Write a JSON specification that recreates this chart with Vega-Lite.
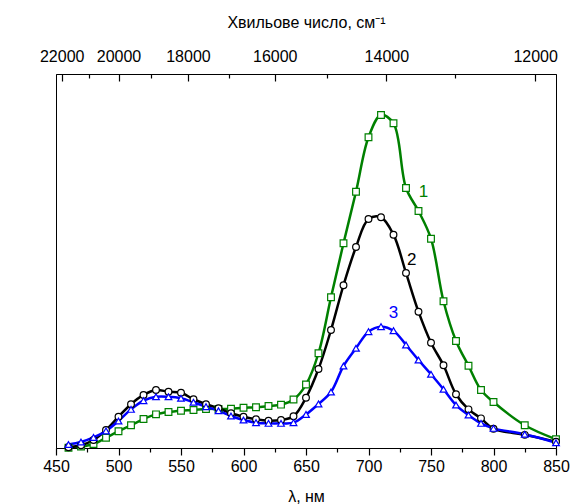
{
  "$schema": "https://vega.github.io/schema/vega-lite/v6.json",
  "width": 500,
  "height": 374,
  "autosize": {"type": "none"},
  "padding": {"left": 56, "top": 74, "right": 15, "bottom": 56},
  "background": "white",
  "config": {
    "font": "Liberation Sans",
    "view": {"stroke": "black", "strokeWidth": 1},
    "axis": {"grid": false, "domainColor": "black", "labelColor": "black", "titleColor": "black", "labelFontSize": 16, "titleFontSize": 16, "titleFontWeight": "normal", "labelOverlap": false, "labelFlush": false, "ticks": true, "tickColor": "black", "tickWidth": 1.2}
  },
  "datasets": {
    "curves": [
      {"s": "1", "x": 460, "y": 0.02}, {"s": "1", "x": 470, "y": 0.1}, {"s": "1", "x": 480, "y": 0.29}, {"s": "1", "x": 490, "y": 0.74}, {"s": "1", "x": 500, "y": 1.21}, {"s": "1", "x": 510, "y": 1.64}, {"s": "1", "x": 520, "y": 2.09}, {"s": "1", "x": 530, "y": 2.43}, {"s": "1", "x": 540, "y": 2.6}, {"s": "1", "x": 550, "y": 2.69}, {"s": "1", "x": 560, "y": 2.74}, {"s": "1", "x": 570, "y": 2.82}, {"s": "1", "x": 580, "y": 2.82}, {"s": "1", "x": 590, "y": 2.84}, {"s": "1", "x": 600, "y": 2.91}, {"s": "1", "x": 610, "y": 2.94}, {"s": "1", "x": 620, "y": 3.03}, {"s": "1", "x": 630, "y": 3.13}, {"s": "1", "x": 640, "y": 3.5}, {"s": "1", "x": 650, "y": 4.58}, {"s": "1", "x": 660, "y": 6.84}, {"s": "1", "x": 670, "y": 10.88}, {"s": "1", "x": 680, "y": 14.78}, {"s": "1", "x": 690, "y": 18.5}, {"s": "1", "x": 700, "y": 22.43}, {"s": "1", "x": 710, "y": 24.04}, {"s": "1", "x": 720, "y": 23.44}, {"s": "1", "x": 730, "y": 18.77}, {"s": "1", "x": 740, "y": 17.11}, {"s": "1", "x": 750, "y": 15.11}, {"s": "1", "x": 760, "y": 10.59}, {"s": "1", "x": 770, "y": 7.73}, {"s": "1", "x": 780, "y": 5.94}, {"s": "1", "x": 790, "y": 4.19}, {"s": "1", "x": 800, "y": 3.32}, {"s": "1", "x": 825, "y": 1.64}, {"s": "1", "x": 850, "y": 0.63},
      {"s": "2", "x": 460, "y": 0.05}, {"s": "2", "x": 470, "y": 0.2}, {"s": "2", "x": 480, "y": 0.58}, {"s": "2", "x": 490, "y": 1.3}, {"s": "2", "x": 500, "y": 2.26}, {"s": "2", "x": 510, "y": 3.16}, {"s": "2", "x": 520, "y": 3.83}, {"s": "2", "x": 530, "y": 4.19}, {"s": "2", "x": 540, "y": 4.06}, {"s": "2", "x": 550, "y": 3.99}, {"s": "2", "x": 560, "y": 3.52}, {"s": "2", "x": 570, "y": 3.16}, {"s": "2", "x": 580, "y": 2.87}, {"s": "2", "x": 590, "y": 2.51}, {"s": "2", "x": 600, "y": 2.26}, {"s": "2", "x": 610, "y": 2.07}, {"s": "2", "x": 620, "y": 1.97}, {"s": "2", "x": 630, "y": 2.02}, {"s": "2", "x": 640, "y": 2.29}, {"s": "2", "x": 650, "y": 3.63}, {"s": "2", "x": 660, "y": 5.7}, {"s": "2", "x": 670, "y": 8.52}, {"s": "2", "x": 680, "y": 11.75}, {"s": "2", "x": 690, "y": 14.51}, {"s": "2", "x": 700, "y": 16.53}, {"s": "2", "x": 710, "y": 16.66}, {"s": "2", "x": 720, "y": 15.4}, {"s": "2", "x": 730, "y": 12.64}, {"s": "2", "x": 740, "y": 9.84}, {"s": "2", "x": 750, "y": 7.6}, {"s": "2", "x": 760, "y": 5.97}, {"s": "2", "x": 770, "y": 3.88}, {"s": "2", "x": 780, "y": 2.79}, {"s": "2", "x": 790, "y": 2.14}, {"s": "2", "x": 800, "y": 1.39}, {"s": "2", "x": 825, "y": 0.95}, {"s": "2", "x": 850, "y": 0.45},
      {"s": "3", "x": 460, "y": 0.25}, {"s": "3", "x": 470, "y": 0.43}, {"s": "3", "x": 480, "y": 0.76}, {"s": "3", "x": 490, "y": 1.23}, {"s": "3", "x": 500, "y": 1.95}, {"s": "3", "x": 510, "y": 2.79}, {"s": "3", "x": 520, "y": 3.42}, {"s": "3", "x": 530, "y": 3.7}, {"s": "3", "x": 540, "y": 3.7}, {"s": "3", "x": 550, "y": 3.59}, {"s": "3", "x": 560, "y": 3.3}, {"s": "3", "x": 570, "y": 2.98}, {"s": "3", "x": 580, "y": 2.69}, {"s": "3", "x": 590, "y": 2.31}, {"s": "3", "x": 600, "y": 2.02}, {"s": "3", "x": 610, "y": 1.83}, {"s": "3", "x": 620, "y": 1.78}, {"s": "3", "x": 630, "y": 1.78}, {"s": "3", "x": 640, "y": 1.83}, {"s": "3", "x": 650, "y": 2.42}, {"s": "3", "x": 660, "y": 3.18}, {"s": "3", "x": 670, "y": 4.04}, {"s": "3", "x": 680, "y": 5.92}, {"s": "3", "x": 690, "y": 7.2}, {"s": "3", "x": 700, "y": 8.4}, {"s": "3", "x": 710, "y": 8.76}, {"s": "3", "x": 720, "y": 8.47}, {"s": "3", "x": 730, "y": 7.44}, {"s": "3", "x": 740, "y": 6.35}, {"s": "3", "x": 750, "y": 5.32}, {"s": "3", "x": 760, "y": 4.24}, {"s": "3", "x": 770, "y": 3.1}, {"s": "3", "x": 780, "y": 2.38}, {"s": "3", "x": 790, "y": 1.78}, {"s": "3", "x": 800, "y": 1.42}, {"s": "3", "x": 825, "y": 0.99}, {"s": "3", "x": 850, "y": 0.38}
    ],
    "labels": [
      {"s": "1", "x": 744, "y": 18.5},
      {"s": "2", "x": 734.5, "y": 13.6},
      {"s": "3", "x": 720, "y": 9.75}
    ]
  },
  "resolve": {"scale": {"x": "independent"}, "axis": {"x": "independent"}},
  "layer": [
    {
      "data": {"name": "curves"},
      "mark": {"type": "line", "interpolate": "catmull-rom", "strokeWidth": 2.5, "clip": true},
      "encoding": {
        "x": {"field": "x", "type": "quantitative", "scale": {"domain": [450, 850], "nice": false, "zero": false},
          "axis": {"orient": "top", "values": [476.19, 526.316, 588.235, 666.667, 769.231], "labels": false, "domain": false, "tickSize": -4, "title": null}},
        "y": {"field": "y", "type": "quantitative", "scale": {"domain": [0, 27], "nice": false},
          "axis": {"orient": "left", "values": [0,1,2,3,4,5,6,7,8,9,10,11,12,13,14,15,16,17,18,19,20,21,22,23,24,25,26,27], "labels": false,
            "tickSize": -5,
            "title": "Інтенсивність РЛ, відн.од.", "titlePadding": 20}},
        "color": {"field": "s", "type": "nominal", "scale": {"domain": ["1", "2", "3"], "range": ["#008000", "#000000", "#0000ff"]}, "legend": null},
        "order": {"field": "x", "type": "quantitative"}
      }
    },
    {
      "data": {"name": "curves"},
      "transform": [{"filter": "datum.s == '1'"}],
      "mark": {"type": "point", "filled": false, "fill": "white", "fillOpacity": 1, "strokeWidth": 1.2, "opacity": 1, "shape": "square", "size": 45, "color": "#008000"},
      "encoding": {
        "x": {"field": "x", "type": "quantitative", "scale": {"domain": [450, 850], "nice": false, "zero": false},
          "axis": {"orient": "bottom", "values": [450, 500, 550, 600, 650, 700, 750, 800, 850], "tickSize": 7, "labelPadding": 3, "title": "λ, нм", "titlePadding": 14}},
        "y": {"field": "y", "type": "quantitative", "axis": null}
      }
    },
    {
      "data": {"name": "curves"},
      "transform": [{"filter": "datum.s != '1'"}],
      "mark": {"type": "point", "filled": false, "fill": "white", "fillOpacity": 1, "strokeWidth": 1.2, "opacity": 1},
      "encoding": {
        "x": {"field": "x", "type": "quantitative", "scale": {"domain": [450, 850], "nice": false, "zero": false},
          "axis": {"orient": "bottom", "values": [475, 525, 575, 625, 675, 725, 775, 825], "labels": false, "domain": false, "tickSize": 4, "title": null}},
        "y": {"field": "y", "type": "quantitative", "axis": null},
        "color": {"field": "s", "type": "nominal", "scale": {"domain": ["1", "2", "3"], "range": ["#008000", "#000000", "#0000ff"]}, "legend": null},
        "shape": {"field": "s", "type": "nominal", "scale": {"domain": ["1", "2", "3"], "range": ["square", "circle", "triangle-up"]}, "legend": null},
        "size": {"field": "s", "type": "nominal", "scale": {"domain": ["1", "2", "3"], "range": [45, 45, 55]}, "legend": null}
      }
    },
    {
      "data": {"name": "labels"},
      "mark": {"type": "text", "fontSize": 17, "align": "center", "baseline": "middle"},
      "encoding": {
        "x": {"field": "x", "type": "quantitative", "scale": {"domain": [450, 850], "nice": false, "zero": false},
          "axis": {"orient": "top", "values": [454.545, 500, 555.556, 625, 714.286, 833.333],
            "labelExpr": "format(round(1e7 / datum.value), 'd')",
            "tickSize": -7,
            "labelPadding": 17, "title": "Хвильове число, см⁻¹", "titlePadding": 18}},
        "y": {"field": "y", "type": "quantitative", "axis": null},
        "text": {"field": "s"},
        "color": {"field": "s", "type": "nominal", "scale": {"domain": ["1", "2", "3"], "range": ["#008000", "#000000", "#0000ff"]}, "legend": null}
      }
    }
  ]
}
